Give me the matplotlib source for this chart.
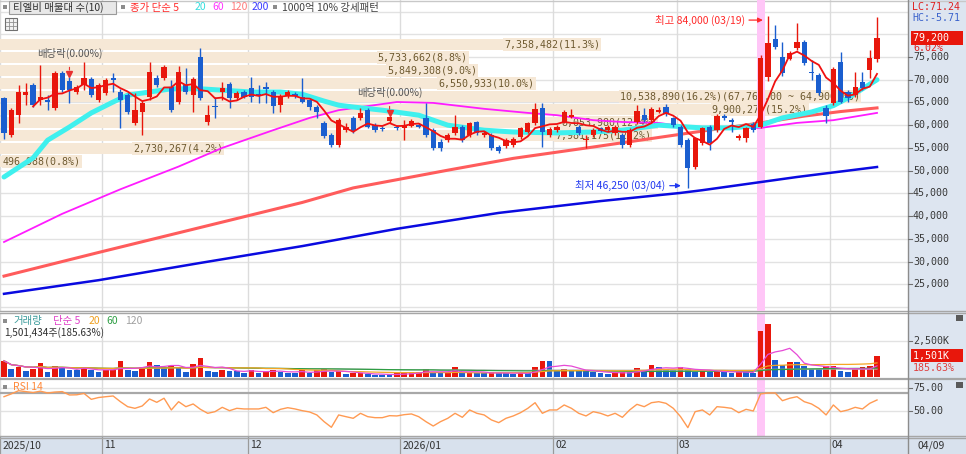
import numpy as np
import pandas as pd
import matplotlib
matplotlib.use("Agg")
import matplotlib.pyplot as plt
import matplotlib.transforms as mtransforms
from matplotlib.patches import Rectangle
from matplotlib.lines import Line2D

# ---------------- data ----------------
holidays = ["2025-12-25", "2025-12-31", "2026-01-01", "2026-02-16",
            "2026-02-17", "2026-02-18", "2026-03-02"]
trade_dates = pd.bdate_range("2025-10-14", "2026-04-09")
trade_dates = trade_dates[~trade_dates.isin(pd.to_datetime(holidays))]

open_ = [66000, 57800, 62200, 66600, 68800, 65500, 65500, 63800, 71500, 69700,
         67300, 68800, 70200, 65500, 67100, 70400, 67300, 66600, 60500, 62900,
         66200, 70400, 70400, 68400, 65100, 68800, 66600, 75000, 60700, 64200,
         67200, 69000, 65900, 67300, 68100, 66900, 68300, 67300, 64400, 66400,
         66900, 66300, 65500, 63900, 60500, 57800, 55600, 58900, 61600, 61500,
         63300, 60100, 59300, 61000, 59700, 59300, 59900, 60000, 61500, 58900,
         56400, 56700, 58200, 59700, 57800, 60600, 57800, 57800, 55300, 55400,
         55600, 57300, 58600, 60400, 63700, 57800, 58900, 60800, 61900, 59700,
         56800, 57800, 59300, 58900, 58200, 57800, 55600, 60600, 62200, 61100,
         63000, 64100, 61500, 59700, 56700, 50800, 56000, 59700, 58900, 62000,
         61100, 57100, 57100, 60300, 59700, 70700, 78900, 75100, 74600, 77000,
         78300, 71500, 71000, 63700, 64800, 73900, 67400, 66600, 69400, 72100,
         74500]
high = [66200, 63800, 68800, 69300, 69300, 73200, 66600, 71900, 71900, 70600,
        68800, 73900, 70600, 69300, 70400, 71500, 68000, 67100, 67100, 65300,
        73900, 71000, 73200, 70000, 73000, 72600, 70600, 77000, 64400, 66300,
        69600, 69600, 67500, 67700, 70700, 68800, 69600, 67700, 66800, 67700,
        67300, 70400, 66000, 64400, 61000, 58200, 61500, 60500, 62000, 63800,
        63800, 60500, 59800, 62000, 60100, 61100, 61300, 60500, 64900, 59300,
        56900, 58200, 62200, 60100, 60800, 61000, 58700, 58200, 55700, 57100,
        57300, 59700, 60800, 64900, 64900, 59500, 60100, 63300, 63500, 60100,
        57800, 59300, 59700, 60100, 60100, 58200, 59300, 64400, 63700, 63900,
        64100, 64600, 61900, 60100, 57100, 57500, 59700, 60100, 62400, 62400,
        61500, 58000, 59700, 60700, 75500, 84000, 82000, 78400, 76300, 82500,
        78700, 74300, 71400, 64400, 72700, 76100, 67800, 71800, 71800, 76500,
        83700]
low = [57000, 57400, 60500, 64400, 64000, 64400, 63300, 63300, 67300, 64900,
       66900, 67700, 66200, 65100, 66600, 67300, 59400, 62400, 60000, 57800,
       65500, 68400, 69900, 62900, 64600, 66900, 62900, 65500, 60000, 61500,
       65500, 63800, 65500, 65900, 65200, 64900, 64900, 62600, 62900, 66000,
       66000, 64800, 63400, 61500, 57100, 55300, 55300, 58500, 58300, 61100,
       59300, 58600, 58700, 60500, 58900, 56700, 59500, 59300, 57400, 54500,
       54400, 56300, 57800, 56300, 57400, 57800, 57300, 54500, 53800, 55000,
       55200, 56900, 58200, 60000, 55200, 57400, 58500, 60400, 61500, 57900,
       54900, 57400, 58400, 58500, 57800, 55000, 55200, 60200, 60700, 60700,
       62600, 62100, 59600, 55200, 46250, 50300, 55600, 54500, 58500, 61100,
       58600, 56700, 56400, 58500, 59300, 69800, 76800, 70900, 74300, 76600,
       73300, 69900, 66600, 60400, 64400, 64800, 65000, 66200, 67700, 70300,
       74000]
close = [58300, 63300, 67300, 67300, 64400, 66200, 65100, 71500, 67700, 67700,
         68400, 70400, 66600, 68800, 69900, 69900, 65500, 62900, 63300, 64900,
         71700, 68800, 72800, 63300, 71700, 67300, 70200, 66000, 62200, 63900,
         68100, 65900, 67100, 66300, 66300, 66600, 67900, 64200, 66400, 67300,
         66400, 65200, 63900, 62900, 57600, 55600, 61100, 59700, 58700, 62600,
         59700, 59000, 59100, 61900, 59300, 60000, 60900, 59700, 57800, 54900,
         54900, 57800, 59700, 56700, 60400, 58200, 58300, 54900, 54400, 56700,
         56900, 59300, 60400, 63500, 58600, 59100, 59700, 62800, 62200, 58300,
         56900, 58900, 58800, 59700, 59700, 55600, 58900, 63200, 61100, 63500,
         63300, 62500, 60000, 55600, 50600, 57100, 59300, 56000, 62000, 61500,
         60800, 57600, 59300, 58900, 74700, 78000, 77300, 71400, 75900, 78300,
         73700, 71400, 67000, 62000, 72300, 65200, 65900, 68500, 68100, 74700,
         79200]
volume_k = [1150, 620, 690, 460, 620, 966, 345, 780, 690, 510,
            500, 740, 510, 390, 500, 520, 1150, 550, 440, 740,
            1080, 850, 690, 780, 740, 390, 920, 1330, 460, 345,
            550, 460, 440, 320, 550, 320, 390, 550, 390, 320,
            280, 500, 280, 520, 560, 390, 420, 230, 280, 300,
            210, 190, 180, 170, 280, 320, 350, 370, 620, 320,
            300, 380, 690, 300, 310, 300, 290, 370, 300, 290,
            250, 300, 280, 740, 1170, 1160, 530, 600, 480, 470,
            460, 370, 300, 230, 345, 370, 360, 640, 530, 870,
            740, 575, 530, 710, 600, 410, 420, 410, 420, 410,
            300, 370, 360, 320, 3240, 3680, 1220, 830, 1100, 1035,
            760, 600, 590, 760, 800, 460, 410, 600, 690, 808.83,
            1501.434]
rsi14 = [65.4, 68.5, 72.0, 71.0, 70.0, 71.5, 69.5, 70.5, 71.0, 67.3,
         67.5, 69.0, 62.5, 64.5, 65.4, 66.2, 59.9, 54.4, 52.6, 55.2,
         62.9, 59.2, 63.7, 50.8, 59.9, 54.4, 57.4, 51.5, 47.1, 48.9,
         53.7, 50.0, 52.6, 51.9, 51.9, 51.9, 53.7, 47.8, 51.5, 53.3,
         51.9, 50.0, 48.6, 45.3, 37.9, 31.7, 45.3, 43.4, 41.6, 47.1,
         43.4, 42.3, 42.3, 44.5, 44.2, 45.6, 46.4, 43.4, 37.9, 33.1,
         37.9, 41.6, 47.1, 42.7, 50.8, 47.1, 45.3, 39.8, 36.8, 41.6,
         44.2, 47.8, 52.6, 58.8, 47.1, 50.8, 50.8, 56.3, 52.6, 47.1,
         44.2, 48.9, 47.1, 44.2, 47.1, 42.7, 50.8, 57.0, 54.4, 58.8,
         59.9, 58.1, 52.6, 43.4, 31.3, 48.9, 50.8, 45.3, 54.4, 53.7,
         52.6, 47.8, 51.5, 49.7, 68.5, 69.5, 69.5, 61.0, 63.7, 65.4,
         59.9, 57.4, 52.6, 45.3, 56.3, 48.9, 50.8, 53.7, 51.9, 58.1,
         61.8]

# moving-average lines (candle index, price)
ma20_idx = [0, 4, 6, 9, 12, 15, 17, 20, 23, 27, 30, 34, 38, 41, 44, 46, 48, 52,
            57, 61, 66, 70, 76, 81, 85, 90, 94, 96, 100, 104, 107, 111, 114,
            116, 118, 120]
ma20_val = [48600, 52800, 56700, 59600, 62700, 65100, 66600, 67300, 68000, 68000,
            67700, 67300, 67300, 66800, 65300, 64400, 64000, 63300, 62200, 60000,
            58900, 58500, 58300, 58500, 58900, 60000, 59600, 59400, 59400, 60000,
            61600, 62900, 64300, 66000, 68000, 70000]
ma60_idx = [0, 8, 16, 24, 30, 37, 42, 46, 50, 54, 59, 66, 72, 76, 81, 85, 90,
            94, 96, 100, 104, 109, 114, 120]
ma60_val = [34300, 40500, 45900, 50900, 55000, 58900, 61600, 63300, 64200, 65100,
            64900, 63600, 62700, 62200, 61100, 60700, 60500, 59600, 59400, 59400,
            59400, 60500, 61100, 62700]
ma120_idx = [0, 13, 27, 41, 48, 61, 70, 81, 90, 96, 104, 110, 115, 120]
ma120_val = [26800, 32000, 37500, 43000, 46200, 50100, 52700, 55200, 57300,
             58700, 60500, 62000, 63000, 63800]
ma200_idx = [0, 13, 27, 41, 54, 68, 82, 93, 96, 109, 120]
ma200_val = [22900, 25900, 29700, 33400, 37200, 40700, 43300, 45100, 45700,
             48600, 50800]

# price-volume profile (10 bins, lowest price first)
profile_vol = [496988, 2730267, 7981175, 8053980, 9900274, 10538890,
               6550933, 5849308, 5733662, 7358482]
dividend_dates = ["2025-10-27", "2025-12-29"]
signal_dates = ["2026-03-18"]

# ---------------- style ----------------
plt.rcParams['font.family'] = ['DejaVu Sans Mono', 'Noto Sans CJK KR', 'DejaVu Sans']
KR = ['Noto Sans CJK KR', 'DejaVu Sans']
RED = '#e8170c'
BLUE = '#1a5ecf'
BEIGE = '#f6e8d6'
BROWN = '#6e5a30'
GRID = '#e2e2e2'
PANEL = '#dde5f0'
SEP = '#a6a6a6'
NUM = 7.2

W, H = 966, 454
fig = plt.figure(figsize=(W / 100, H / 100), dpi=100)
fig.patch.set_facecolor('white')


def R(x0, y0, x1, y1):
    return [x0 / W, 1 - y1 / H, (x1 - x0) / W, (y1 - y0) / H]


def clean(a):
    a.set_xticks([])
    a.set_yticks([])
    for s in a.spines.values():
        s.set_visible(False)


def frect(x0, y0, x1, y1, **kw):
    fig.add_artist(Rectangle((x0 / W, 1 - y1 / H), (x1 - x0) / W, (y1 - y0) / H,
                             transform=fig.transFigure, **kw))


def fline(xs, ys, **kw):
    fig.add_artist(Line2D([v / W for v in xs], [1 - v / H for v in ys],
                          transform=fig.transFigure, **kw))


def ftext(x, y, s, **kw):
    kw.setdefault('ha', 'left')
    kw.setdefault('va', 'center')
    return fig.text(x / W, 1 - y / H, s, **kw)


# background panels
frect(908, 0, 966, 454, fc=PANEL, ec='none', zorder=0)
frect(0, 437, 966, 454, fc='#d8e1ed', ec='none', zorder=0)

o = np.array(open_, float)
h = np.array(high, float)
l = np.array(low, float)
c = np.array(close, float)
v = np.array(volume_k, float)
n = len(c)
x = np.arange(n)
XL = (-0.55, 124.26)
PY = (19120, 87540)

bounds = [-0.5] + [i - 0.5 for i in range(1, n) if trade_dates[i].month != trade_dates[i - 1].month]
blabels = []
for b in bounds:
    d = trade_dates[int(b + 0.5)]
    if b < 0 or d.month == 1:
        blabels.append(f"{d:%Y/%m}")
    else:
        blabels.append(f"{d:%m}")
sig_idx = [trade_dates.get_loc(pd.Timestamp(s)) for s in signal_dates]

# ---------------- price panel ----------------
ax_prof = fig.add_axes(R(0, 0, 908, 311))
ax_prof.set_zorder(1)
clean(ax_prof)
ax = fig.add_axes(R(0, 0, 908, 311))
ax.set_zorder(2)
ax.patch.set_alpha(0)
clean(ax)
ax.set_xlim(*XL)
ax.set_ylim(*PY)
ax_prof.set_ylim(*PY)
ax_prof.set_xlim(0, max(profile_vol) * 1.056)

for p in range(20000, 90000, 5000):
    ax_prof.axhline(p, color=GRID, lw=1.0, zorder=0)
vtrans = mtransforms.blended_transform_factory(ax.transData, ax_prof.transAxes)
for b in bounds:
    ax_prof.plot([b, b], [0, 1], color='#dcdcdc', lw=1.0, transform=vtrans, zorder=0)

lo, hi = min(close), max(close)
nb = len(profile_vol)
step = (hi - lo) / nb
edges = lo + step * np.arange(nb + 1)
centers = (edges[:-1] + edges[1:]) / 2
tot = sum(profile_vol)
imx = int(np.argmax(profile_vol))
ax_prof.barh(centers, profile_vol, height=step * 0.9, left=0, color=BEIGE, zorder=2, lw=0)
plabels = []
for k, pv in enumerate(profile_vol):
    s = f"{pv:,}({pv / tot * 100:.1f}%)"
    if k == imx:
        s += f"({edges[k + 1]:,.2f} ~ {edges[k]:,.2f})"
    t = ax_prof.text(pv, centers[k], s, ha='right', va='center', fontsize=NUM,
                     color=BROWN, zorder=3,
                     bbox=dict(fc=BEIGE, ec='none', pad=0.8))
    plabels.append(t)

for si in sig_idx:
    ax.axvspan(si - 0.55, si + 0.55, color='#ffc6f7', lw=0, zorder=1)

ax.plot(ma200_idx, ma200_val, color='#0a0ae0', lw=1.8, zorder=2)
ax.plot(ma120_idx, ma120_val, color='#ff5c5c', lw=2.2, zorder=2)
ax.plot(ma60_idx, ma60_val, color='#ff1cff', lw=1.3, zorder=2)
ax.plot(ma20_idx, ma20_val, color='#3ff0ee', lw=3.6, zorder=2, solid_capstyle='round')

up = c >= o
col = np.where(up, RED, BLUE)
body_lo = np.minimum(o, c)
body_h = np.maximum(np.abs(c - o), 200)
ax.vlines(x, l, h, colors=col, lw=1.0, zorder=3)
ax.bar(x, body_h, bottom=body_lo, width=0.72, color=col, lw=0, zorder=3.5)

ma5 = pd.Series(c).rolling(5).mean()
ax.plot(x, ma5, color='#f01010', lw=1.3, zorder=4)

# dividend markers
for d in dividend_dates:
    i = trade_dates.get_loc(pd.Timestamp(d))
    tri = mtransforms.offset_copy(ax.transData, fig, x=0, y=3, units='dots')
    ax.plot(i, h[i], marker='v', ms=5, color='#e83030', transform=tri, zorder=5)
    ax.annotate('배당락(0.00%)', xy=(i, h[i]), xytext=(0, 17), textcoords='offset points',
                ha='center', va='center', color='#555555', fontsize=7.5, family=KR,
                zorder=5,
                arrowprops=dict(arrowstyle='-', color='#e83030', lw=0.8,
                                shrinkA=4, shrinkB=5))

# high / low annotations
imax = int(np.argmax(h))
imin = int(np.argmin(l))
tip_hi = mtransforms.offset_copy(ax.transData, fig, x=-5, y=-4, units='dots')
ax.annotate(f"최고 {h[imax]:,.0f} ({trade_dates[imax]:%m/%d})", xy=(imax, h[imax]),
            xycoords=tip_hi, xytext=(-13, 0), textcoords='offset points',
            ha='right', va='center', color='#ff2a2a', fontsize=7.5, family=KR, zorder=6,
            arrowprops=dict(arrowstyle='-|>', color='#ff2a2a', lw=0.9, shrinkA=1,
                            shrinkB=0, mutation_scale=7))
tip_lo = mtransforms.offset_copy(ax.transData, fig, x=-7, y=2, units='dots')
ax.annotate(f"최저 {l[imin]:,.0f} ({trade_dates[imin]:%m/%d})", xy=(imin, l[imin]),
            xycoords=tip_lo, xytext=(-11, 0), textcoords='offset points',
            ha='right', va='center', color='#2038f0', fontsize=7.5, family=KR, zorder=6,
            arrowprops=dict(arrowstyle='-|>', color='#2038f0', lw=0.9, shrinkA=1,
                            shrinkB=0, mutation_scale=7))

# price right axis
ax_pr = fig.add_axes(R(908, 0, 966, 311))
ax_pr.set_zorder(2)
ax_pr.patch.set_alpha(0)
clean(ax_pr)
ax_pr.set_xlim(0, 1)
ax_pr.set_ylim(*PY)
for p in range(25000, 80000, 5000):
    ax_pr.plot([0, 0.07], [p, p], color='#707070', lw=0.8)
    ax_pr.text(0.086, p, f"{p:,}", ha='left', va='center', fontsize=NUM, color='#383838')
chg = (c[-1] / c[-2] - 1) * 100
ax_pr.text(0.086, c[-1], f"{c[-1]:,.0f}".ljust(8), ha='left', va='center', fontsize=NUM,
           color='white', bbox=dict(fc=RED, ec='none', pad=1.2), zorder=5)
ax_pr.annotate(f"{chg:.2f}%", xy=(0.086, c[-1]), xytext=(0, -7.5), textcoords='offset points',
               ha='left', va='center', fontsize=NUM, color='#e02020')
ftext(912, 7, "LC:71.24", fontsize=NUM, color='#e02020')
ftext(912, 18, "HC:-5.71", fontsize=NUM, color='#3a62cc')

# ---------------- volume panel ----------------
ax_v = fig.add_axes(R(0, 313, 908, 379))
clean(ax_v)
ax_v.set_xlim(*XL)
ax_v.set_ylim(-103.5, 4450)
ax_v.axhline(2500, color=GRID, lw=1.0, zorder=0)
for b in bounds:
    ax_v.axvline(b, color='#dcdcdc', lw=1.0, zorder=0)
for si in sig_idx:
    ax_v.axvspan(si - 0.55, si + 0.55, color='#ffc6f7', lw=0, zorder=0.5)
vcol = [RED] + [RED if v[i] > v[i - 1] else BLUE for i in range(1, n)]
ax_v.bar(x, v, width=0.78, color=vcol, lw=0, zorder=2)
vs = pd.Series(v)
ax_v.plot(x, vs.rolling(120, min_periods=1).mean(), color='#b4b4b4', lw=0.9, zorder=3)
ax_v.plot(x, vs.rolling(60, min_periods=1).mean(), color='#2e9e44', lw=0.9, zorder=3)
ax_v.plot(x, vs.rolling(20, min_periods=1).mean(), color='#f5a623', lw=0.9, zorder=3)
ax_v.plot(x, vs.rolling(5, min_periods=1).mean(), color='#e64ad6', lw=0.9, zorder=3)

ax_vr = fig.add_axes(R(908, 313, 966, 379))
ax_vr.patch.set_alpha(0)
clean(ax_vr)
ax_vr.set_xlim(0, 1)
ax_vr.set_ylim(-103.5, 4450)
ax_vr.plot([0, 0.07], [2500, 2500], color='#707070', lw=0.8)
ax_vr.text(0.086, 2500, "2,500K", ha='left', va='center', fontsize=NUM, color='#383838')
vchg = v[-1] / v[-2] * 100
ax_vr.text(0.086, v[-1], f"{v[-1]:,.0f}K".ljust(8), ha='left', va='center', fontsize=NUM,
           color='white', bbox=dict(fc=RED, ec='none', pad=1.2), zorder=5)
ax_vr.annotate(f"{vchg:.2f}%", xy=(0.086, v[-1]), xytext=(0, -8.5), textcoords='offset points',
               ha='left', va='center', fontsize=NUM, color='#e04040')

# ---------------- RSI panel ----------------
ax_r = fig.add_axes(R(0, 380, 908, 437))
clean(ax_r)
ax_r.set_xlim(*XL)
ax_r.set_ylim(21.0, 83.8)
ax_r.axhline(75, color=GRID, lw=1.0, zorder=0)
ax_r.axhline(50, color=GRID, lw=1.0, zorder=0)
ax_r.axhline(70, color='#a8a8a8', lw=1.6, zorder=0.6)
for b in bounds:
    ax_r.axvline(b, color='#dcdcdc', lw=1.0, zorder=0)
for si in sig_idx:
    ax_r.axvspan(si - 0.55, si + 0.55, color='#ffc6f7', lw=0, zorder=0.5)
ax_r.plot(x, rsi14, color='#ff9a52', lw=1.0, zorder=3)

ax_rr = fig.add_axes(R(908, 380, 966, 437))
ax_rr.patch.set_alpha(0)
clean(ax_rr)
ax_rr.set_xlim(0, 1)
ax_rr.set_ylim(21.0, 83.8)
for lv in (75, 50):
    ax_rr.plot([0, 0.07], [lv, lv], color='#707070', lw=0.8)
    ax_rr.text(0.086, lv, f"{lv:.2f}", ha='left', va='center', fontsize=NUM, color='#383838')

# ---------------- date axis ----------------
ax_d = fig.add_axes(R(0, 437, 908, 454))
ax_d.patch.set_alpha(0)
clean(ax_d)
ax_d.set_xlim(*XL)
ax_d.set_ylim(0, 1)
dtr = mtransforms.offset_copy(ax_d.transData, fig, x=2, y=0, units='dots')
for b, lab in zip(bounds, blabels):
    ax_d.axvline(b, color='#9a9a9a', lw=0.9)
    ax_d.text(b, 0.5, lab, transform=dtr, ha='left', va='center', fontsize=7.5,
              color='#333333', family=KR)
ftext(917, 446, f"{trade_dates[-1]:%m/%d}", fontsize=7.5, color='#333333', family=KR)

# ---------------- separators ----------------
fline([0, 966], [0.5, 0.5], color='#c8c8c8', lw=1.0)
fline([0, 966], [311, 311], color=SEP, lw=1.0)
fline([0, 966], [313, 313], color=SEP, lw=1.0)
fline([0, 966], [379, 379], color=SEP, lw=1.6)
fline([0, 966], [436, 436], color=SEP, lw=1.0)
fline([0, 966], [437.5, 437.5], color=SEP, lw=1.0)
fline([908, 908], [0, 454], color='#8c8c8c', lw=1.0)

# ---------------- headers ----------------
def square(px, py):
    frect(px, py - 2, px + 4, py + 2, fc='#8c8c8c', ec='none', zorder=5)

square(3, 7)
frect(9, 1, 116, 14, fc='#e8e8e8', ec='#9a9a9a', lw=0.8, zorder=4)
ftext(13, 7.5, "티엘비 매물대 수(10)", fontsize=7.5, color='#303030', family=KR, zorder=6)
square(121, 7)
ftext(130, 7.5, "종가 단순 5", fontsize=7.5, color='#ff2a2a', family=KR)
ftext(195, 7.5, "20", fontsize=7.5, color='#35dede', family=KR)
ftext(212, 7.5, "60", fontsize=7.5, color='#ff35ff', family=KR)
ftext(230, 7.5, "120", fontsize=7.5, color='#ff7a7a', family=KR)
ftext(252, 7.5, "200", fontsize=7.5, color='#3a3aff', family=KR)
square(273, 7)
ftext(282, 7.5, "1000억 10% 강세패턴", fontsize=7.5, color='#404040', family=KR)
# table icon
frect(5, 18, 17, 30, fc='#f2f2f2', ec='#707070', lw=0.8, zorder=5)
for yy in (22, 26):
    fline([6, 16], [yy, yy], color='#909090', lw=0.6, zorder=6)
for xx in (9, 13):
    fline([xx, xx], [19, 29], color='#909090', lw=0.6, zorder=6)

square(3, 321)
ftext(13, 321, "거래량", fontsize=7.5, color='#3a9a9a', family=KR)
ftext(53, 321, "단순 5", fontsize=7.5, color='#e040c8', family=KR)
ftext(89, 321, "20", fontsize=7.5, color='#f0a020', family=KR)
ftext(106, 321, "60", fontsize=7.5, color='#2e9e44', family=KR)
ftext(125, 321, "120", fontsize=7.5, color='#a0a0a0', family=KR)
ftext(4, 333, f"{v[-1] * 1000:,.0f}주({vchg:.2f}%)", fontsize=7.2, color='#303030', family=KR)
square(3, 387)
ftext(13, 387, "RSI 14", fontsize=7.5, color='#ff8a3c', family=KR)
frect(956, 315, 963, 321, fc='#5a5a5a', ec='none', zorder=5)
frect(956, 382, 963, 388, fc='#5a5a5a', ec='none', zorder=5)

# place short profile labels from the left edge when they do not fit in their bar
fig.canvas.draw()
x0_axes = ax_prof.get_window_extent().x0
for t in plabels:
    bb = t.get_window_extent()
    if bb.x0 < x0_axes:
        t.set_ha('left')
        t.set_x(0)
        t.set_transform(mtransforms.offset_copy(ax_prof.transData, fig, x=3, y=0, units='dots'))

fig.savefig("out.png", dpi=100)
